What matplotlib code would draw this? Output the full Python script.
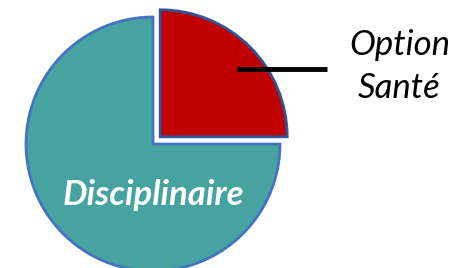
import matplotlib.pyplot as plt

# parts of the pie
labels = ["Option Santé", "Disciplinaire"]
values = [25, 75]
colors = ["#C00000", "#46A39F"]
edges = ["#2F5597", "#4472C4"]

fig = plt.figure(figsize=(4.65, 2.68), dpi=100)
ax = fig.add_axes([0, 0, 1, 1])

wedges, _ = ax.pie(values, colors=colors, startangle=90, counterclock=False,
                   explode=[0.08, 0], radius=1, center=(0, 0))
for w, ec in zip(wedges, edges):
    w.set_edgecolor(ec)
    w.set_linewidth(2)

# 127 px per unit, pie centre at (153, 144) px
ax.set_xlim(-153 / 127, 312 / 127)
ax.set_ylim(-124 / 127, 144 / 127)
ax.set_aspect("auto")
ax.axis("off")

# leader line of the small slice
ax.plot([0.66, 1.37], [0.59, 0.59], color="black", lw=3.5,
        solid_capstyle="butt")

# label, one word per line
for word, yb in zip(labels[0].split(), [0.70, 0.36]):
    ax.text(1.94, yb, word, ha="center", va="baseline", fontsize=25,
            style="italic", family="Lato")

ax.text(0, -0.48, labels[1], ha="center", va="baseline", fontsize=25,
        color="white", style="italic", weight="bold", family="Lato")

fig.savefig("out.png", dpi=100)
